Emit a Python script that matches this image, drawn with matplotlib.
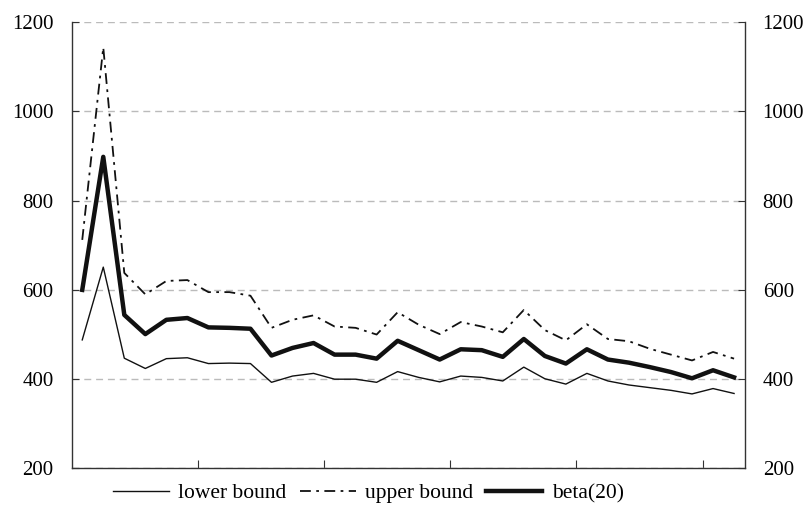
import numpy as np
import matplotlib.pyplot as plt

plt.rcParams['font.family'] = ['Liberation Serif', 'DejaVu Serif']

lower = [488, 651, 447, 424, 446, 448, 435, 436, 435, 393,
         407, 413, 400, 400, 393, 417, 404, 394, 407, 404,
         396, 427, 401, 389, 413, 396, 387, 381, 375, 367,
         379, 368]
upper = [712, 1143, 638, 590, 620, 622, 595, 595, 587, 515,
         533, 543, 518, 515, 500, 550, 522, 501, 528, 518,
         505, 555, 510, 487, 523, 490, 485, 468, 455, 442,
         461, 446]
beta20 = [600, 898, 544, 501, 533, 537, 516, 515, 513, 453,
          470, 481, 455, 455, 446, 486, 465, 444, 467, 465,
          450, 490, 452, 435, 467, 444, 437, 427, 416, 402,
          420, 404]

x = np.arange(len(beta20))

fig = plt.figure(figsize=(8.06, 5.12), dpi=100)
ax = fig.add_axes([0.089, 0.085, 0.8348, 0.872])

ax.plot(x, lower, color='#111111', lw=1.0, label='lower bound')
ax.plot(x, upper, color='#111111', lw=1.3, dashes=(6, 3, 1.5, 3), label='upper bound')
ax.plot(x, beta20, color='#111111', lw=3.2, label='beta(20)')

ax.set_xlim(-0.5, len(x) - 0.5)
ax.set_ylim(200, 1200)
ax.set_yticks([200, 400, 600, 800, 1000, 1200])
ax.set_xticks([5.5, 11.5, 17.5, 23.5, 29.5])
ax.set_xticklabels([])

ax.grid(axis='y', color='#bbbbbb', linestyle=(0, (5, 3.5)), linewidth=1.0)
ax.set_axisbelow(True)

for side in ['left', 'right', 'bottom']:
    ax.spines[side].set_color('#333333')
    ax.spines[side].set_linewidth(1.0)
ax.spines['top'].set_visible(False)

ax.tick_params(axis='y', direction='in', length=5, color='#333333',
               labelsize=15, pad=13, left=True, right=True,
               labelleft=True, labelright=True)
ax.tick_params(axis='x', direction='in', length=6, color='#333333')

fig.legend(loc='center', bbox_to_anchor=(0.457, 0.037), ncol=3, frameon=False,
           fontsize=15.5, handlelength=2.6, handletextpad=0.45, columnspacing=0.6)

fig.savefig('out.png', dpi=100)
